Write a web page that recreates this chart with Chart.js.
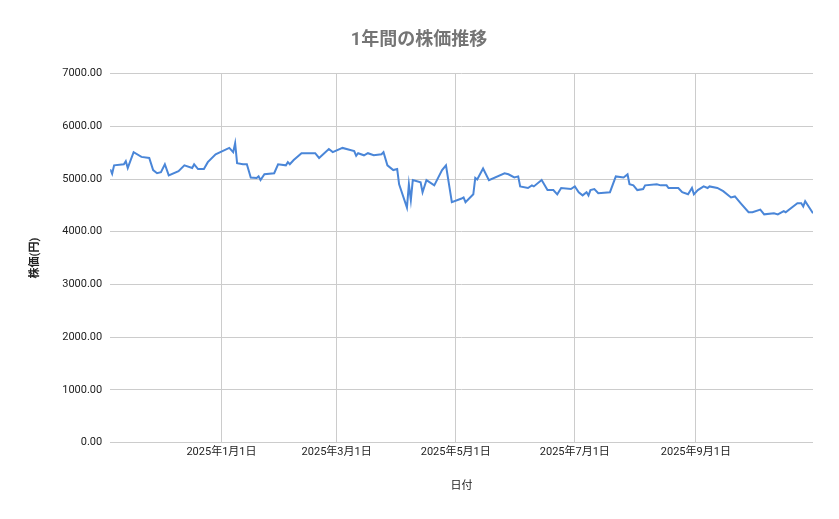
<!DOCTYPE html>
<html><head><meta charset="utf-8">
<script src="https://cdn.jsdelivr.net/npm/chart.js@4"></script>
<style>html,body{margin:0;background:#fff}#wrap{width:839px;height:519px}</style>
</head><body><div id="wrap"><canvas id="c"></canvas></div>
<script>
// days counted from 2025-01-01
const days = [-57,-56,-55,-50,-49,-48,-45,-41,-37,-35,-33,-31,-29,-27,-22,-19,-15,-14,-12,-9,-7,-3,4,6,7,8,11,13,15,18,19,20,22,27,29,33,34,35,37,41,48,50,55,57,62,68,69,70,73,75,78,82,83,85,88,90,91,95,96,97,98,102,103,105,109,113,115,118,123,124,125,129,130,131,134,137,145,147,150,152,153,157,159,160,164,167,170,172,174,179,181,183,185,187,188,189,191,193,199,202,206,208,209,211,213,216,217,223,225,228,229,234,236,239,241,242,244,247,249,250,254,257,261,263,266,270,272,276,278,283,285,288,289,295,297,298,299,303];
const prices = [5185,5100,5260,5280,5340,5210,5510,5420,5400,5170,5110,5130,5280,5070,5150,5260,5210,5280,5190,5190,5320,5470,5590,5510,5680,5300,5280,5280,5030,5020,5050,4980,5090,5110,5280,5260,5320,5280,5360,5490,5490,5400,5570,5510,5590,5530,5440,5490,5450,5490,5450,5470,5510,5260,5170,5190,4900,4460,4900,4600,4980,4940,4750,4980,4880,5170,5260,4560,4630,4650,4560,4710,5020,4990,5200,4980,5110,5090,5030,5050,4860,4830,4880,4860,4980,4790,4790,4710,4830,4810,4860,4750,4690,4750,4690,4790,4810,4730,4750,5050,5030,5090,4900,4880,4790,4810,4880,4900,4880,4880,4830,4830,4750,4710,4830,4710,4790,4860,4830,4860,4830,4770,4650,4670,4540,4370,4370,4420,4330,4350,4330,4390,4370,4540,4540,4480,4580,4350];
const xTickDays = [0,59,120,181,243];
const xTickLabels = ['2025年1月1日','2025年3月1日','2025年5月1日','2025年7月1日','2025年9月1日'];

const font = "Roboto, 'Noto Sans CJK JP', sans-serif";
new Chart(document.getElementById('c'), {
    type: 'line',
    data: {
        datasets: [{
            data: days.map((d, i) => ({ x: d, y: prices[i] })),
            borderColor: '#4a86d8',
            borderWidth: 2,
            pointRadius: 0,
            tension: 0
        }]
    },
    options: {
        responsive: true,
        maintainAspectRatio: false,
        animation: false,
        layout: { padding: { left: 25, right: 26, top: 30, bottom: 22 } },
        plugins: {
            legend: { display: false },
            tooltip: { enabled: false },
            title: {
                display: true,
                text: '1年間の株価推移',
                color: '#757575',
                font: { family: font, size: 18 },
                padding: { bottom: 22 }
            }
        },
        scales: {
            x: {
                type: 'linear',
                min: -57, max: 303,
                afterBuildTicks: axis => { axis.ticks = xTickDays.map(v => ({ value: v })); },
                ticks: {
                    color: '#222', font: { family: font, size: 11 },
                    callback: v => xTickLabels[xTickDays.indexOf(v)],
                    maxRotation: 0
                },
                grid: { color: '#ccc', drawTicks: false },
                border: { display: false },
                title: { display: true, text: '日付', color: '#222', font: { family: font, size: 11 }, padding: { top: 18 } }
            },
            y: {
                min: 0, max: 7000,
                ticks: {
                    stepSize: 1000, color: '#222', font: { family: font, size: 11 },
                    padding: 8, callback: v => v.toFixed(2)
                },
                grid: { color: '#ccc', drawTicks: false },
                border: { display: false },
                title: { display: true, text: '株価(円)', color: '#222', font: { family: font, size: 11, weight: 'bold' }, padding: { bottom: 12 } }
            }
        }
    }
});
</script></body></html>
